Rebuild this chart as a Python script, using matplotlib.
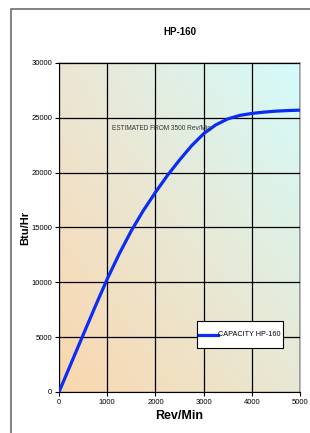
import numpy as np
import matplotlib
matplotlib.use("Agg")
import matplotlib.pyplot as plt

plt.rcParams['font.family'] = ['Liberation Sans', 'DejaVu Sans']

# capacity curve
rpm = [0, 250, 500, 750, 1000, 1250, 1500, 1750, 2000, 2250, 2500,
       2750, 3000, 3250, 3500, 3750, 4000, 4250, 4500, 4750, 5000]
btu = [0, 2600, 5200, 7780, 10300, 12600, 14700, 16550, 18200, 19750, 21150,
       22450, 23550, 24350, 24900, 25220, 25400, 25520, 25610, 25665, 25700]

x_ticks = [0, 1000, 2000, 3000, 4000, 5000]
y_ticks = [0, 5000, 10000, 15000, 20000, 25000, 30000]

fig = plt.figure(figsize=(3.10, 4.33), dpi=100)

# outer chart frame (cut off at right and bottom)
frame = plt.Rectangle((11 / 310, -0.1), 1.2, 1 - 9 / 433 + 0.1,
                      transform=fig.transFigure, fill=False,
                      edgecolor='#606060', linewidth=1.1)
fig.patches.append(frame)

ax = fig.add_axes([59 / 310, 1 - 392 / 433, 241 / 310, 329 / 433])

# gradient background: peach bottom-left -> light cyan top-right
bl = np.array([250, 215, 174]) / 255
br = np.array([232, 232, 212]) / 255
tl = np.array([236, 230, 212]) / 255
tr = np.array([212, 251, 251]) / 255
n = 100
u = np.linspace(0, 1, n)[None, :, None]
v = np.linspace(0, 1, n)[:, None, None]
grad = (1 - u) * (1 - v) * bl + u * (1 - v) * br + (1 - u) * v * tl + u * v * tr
ax.imshow(grad, extent=[0, 1, 0, 1], transform=ax.transAxes, origin='lower',
          aspect='auto', zorder=0)

ax.plot(rpm, btu, color='#0a2cf5', linewidth=2.3, zorder=3,
        solid_joinstyle='round', label='CAPACITY HP-160')

ax.set_xlim(0, 5000)
ax.set_ylim(0, 30000)
ax.set_xticks(x_ticks)
ax.set_yticks(y_ticks)
ax.grid(True, color='black', linewidth=0.9, zorder=1)
ax.set_axisbelow(False)
ax.tick_params(labelsize=5.5, length=3, width=0.8, pad=2)

for s in ['top', 'right']:
    ax.spines[s].set_color('#aaaaaa')
    ax.spines[s].set_linewidth(1.2)
ax.spines['left'].set_color('#555555')
ax.spines['bottom'].set_color('black')

ax.set_title('HP-160', fontsize=7, fontweight='bold', pad=20)
ax.set_xlabel('Rev/Min', fontsize=9, fontweight='bold', labelpad=3)
ax.set_ylabel('Btu/Hr', fontsize=8, fontweight='bold', labelpad=1)

ax.text(1100, 24070, 'ESTIMATED FROM 3500 Rev/Min', fontsize=4.7,
        color='#333333', va='center', ha='left', zorder=4)

leg = ax.legend(loc='upper left', bbox_to_anchor=(138 / 241, 71 / 329),
                fontsize=5.2, frameon=True, fancybox=False, handlelength=2.6,
                handleheight=4.4, handletextpad=0.0, borderpad=0.3,
                borderaxespad=0)
leg.get_frame().set_edgecolor('black')
leg.get_frame().set_linewidth(0.8)
leg.get_frame().set_facecolor('white')
leg.get_frame().set_alpha(1)
# drop the handle line so it sits level with the label
hl = leg.get_lines()[0]
hl.set_ydata(np.asarray(hl.get_ydata()) - 3.9)

fig.savefig('out.png', dpi=100)
